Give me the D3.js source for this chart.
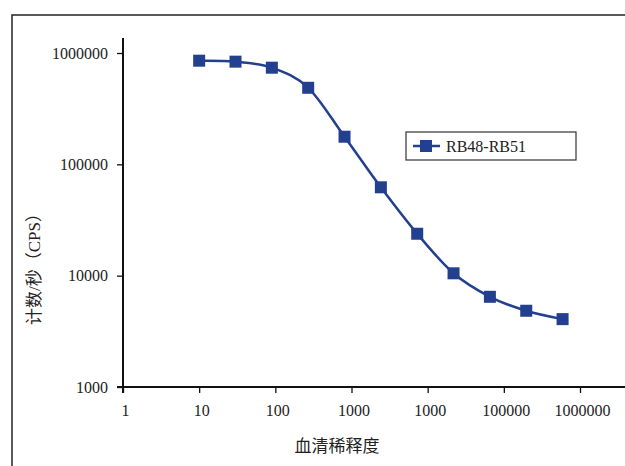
<!DOCTYPE html>
<html>
<head>
<meta charset="utf-8">
<script src="https://cdn.jsdelivr.net/npm/d3@7"></script>
<style>
  body { margin: 0; background: #fff; }
  text { font-family: "Liberation Serif", "Times New Roman", "Noto Sans CJK SC", serif; fill: #222; }
  .axis text { font-size: 16px; }
</style>
</head>
<body>
<script>
// serum dilution (x) vs counts per second (y)
var dilution = [10, 30, 90, 270, 810, 2430, 7290, 21870, 65610, 196830, 590490];
var cps = [853000, 836000, 738000, 487000, 177000, 62200, 23800, 10500, 6460, 4840, 4070];
var seriesName = "RB48-RB51";

var xTickValues = [1, 10, 100, 1000, 10000, 100000, 1000000];
var xTickLabels = ["1", "10", "100", "1000", "1000", "100000", "1000000"];
var yTickValues = [1000, 10000, 100000, 1000000];
var yTickLabels = ["1000", "10000", "100000", "1000000"];

var dim = { width: 625, height: 466 };
var color = "#233f8f";

var x = d3.scaleLog().domain([1, 1000000]).range([123, 580]);
var y = d3.scaleLog().domain([1000, 1000000]).range([387, 53]);

var svg = d3.select("body").append("svg")
    .attr("width", dim.width)
    .attr("height", dim.height);

// outer frame (runs off the right and bottom edges)
svg.append("path")
    .attr("d", "M12,480 L12,15 L640,15")
    .attr("fill", "none")
    .attr("stroke", "#222")
    .attr("stroke-width", 1.5);

var xAxis = d3.axisBottom(x)
    .tickValues(xTickValues)
    .tickFormat(function(d, i) { return xTickLabels[i]; })
    .tickSize(6)
    .tickPadding(12);

var yAxis = d3.axisLeft(y)
    .tickValues(yTickValues)
    .tickFormat(function(d, i) { return yTickLabels[i]; })
    .tickSize(6)
    .tickPadding(9);

var gx = svg.append("g")
    .attr("class", "x axis")
    .attr("transform", "translate(0," + y(1000) + ")")
    .call(xAxis);

var gy = svg.append("g")
    .attr("class", "y axis")
    .attr("transform", "translate(" + x(1) + ",0)")
    .call(yAxis);

gx.select(".domain").remove();
gy.select(".domain").remove();
svg.selectAll(".axis .tick line").attr("stroke", "#111").attr("stroke-width", 1.3);
gx.selectAll(".tick text").attr("dx", 2);

// axis lines
svg.append("line")
    .attr("x1", x(1) - 6).attr("x2", 640)
    .attr("y1", y(1000)).attr("y2", y(1000))
    .attr("stroke", "#111").attr("stroke-width", 2);
svg.append("line")
    .attr("x1", x(1)).attr("x2", x(1))
    .attr("y1", 38).attr("y2", y(1000) + 6)
    .attr("stroke", "#111").attr("stroke-width", 2);

// axis titles
svg.append("text")
    .attr("x", 337).attr("y", 452)
    .attr("text-anchor", "middle")
    .style("font-size", "17px")
    .text("血清稀释度");

svg.append("text")
    .attr("transform", "translate(40,265) rotate(-90)")
    .attr("text-anchor", "middle")
    .style("font-size", "17px")
    .text("计数/秒（CPS）");

// series
var data = dilution.map(function(d, i) { return { x: d, y: cps[i] }; });

var line = d3.line()
    .x(function(d) { return x(d.x); })
    .y(function(d) { return y(d.y); })
    .curve(d3.curveCatmullRom.alpha(0));

svg.append("path")
    .datum(data)
    .attr("d", line)
    .attr("fill", "none")
    .attr("stroke", color)
    .attr("stroke-width", 2.5);

var ms = 12;
svg.selectAll("rect.marker").data(data).enter()
    .append("rect")
    .attr("class", "marker")
    .attr("x", function(d) { return x(d.x) - ms / 2; })
    .attr("y", function(d) { return y(d.y) - ms / 2; })
    .attr("width", ms).attr("height", ms)
    .attr("fill", color);

// legend
var legend = svg.append("g").attr("transform", "translate(406,132)");
legend.append("rect")
    .attr("width", 170).attr("height", 28)
    .attr("fill", "#fff")
    .attr("stroke", "#333").attr("stroke-width", 1.2);
legend.append("line")
    .attr("x1", 7).attr("x2", 34).attr("y1", 14).attr("y2", 14)
    .attr("stroke", color).attr("stroke-width", 2.5);
legend.append("rect")
    .attr("x", 20 - ms / 2).attr("y", 14 - ms / 2)
    .attr("width", ms).attr("height", ms)
    .attr("fill", color);
legend.append("text")
    .attr("x", 40).attr("y", 19.5)
    .style("font-size", "16px")
    .text(seriesName);
</script>
</body>
</html>
